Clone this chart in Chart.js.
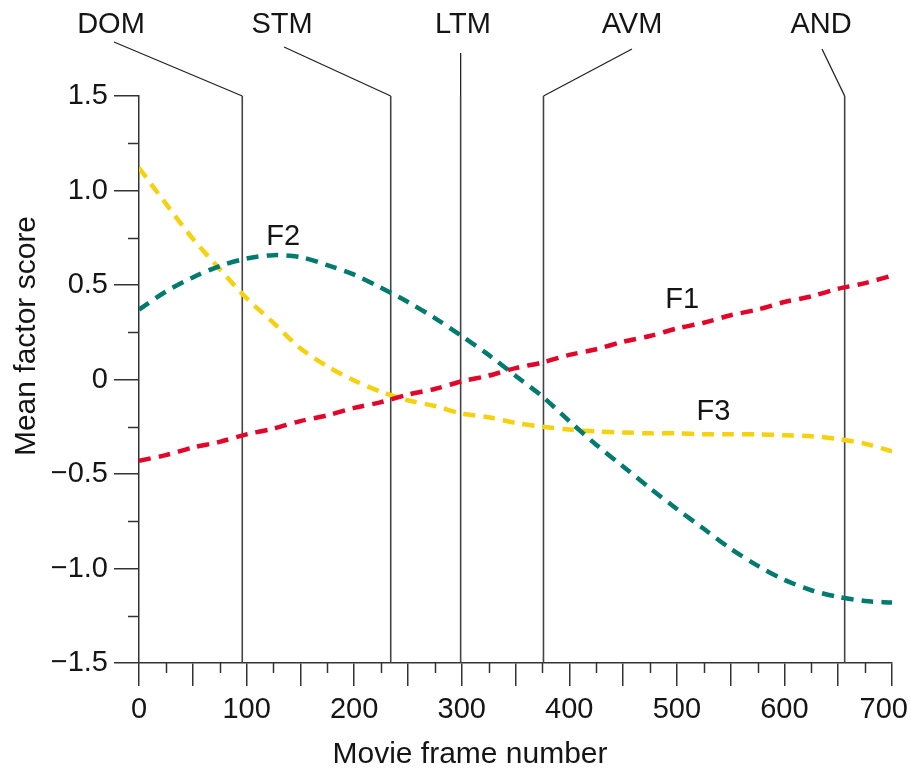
<!DOCTYPE html>
<html><head><meta charset="utf-8">
<script src="https://cdn.jsdelivr.net/npm/chart.js@4.4.1/dist/chart.umd.min.js"></script>
<style>html,body{margin:0;padding:0;background:#fff;}canvas{display:block;}</style>
</head><body>
<canvas id="c" width="911" height="768"></canvas>
<script>
// ---------- data ----------
const frames = [0,25,50,75,100,125,150,175,200,225,250,275,300,325,350,375,400,425,450,475,500,525,550,575,600,625,650,675,700];
const f1 = [-0.43,-0.40,-0.36,-0.33,-0.29,-0.26,-0.22,-0.19,-0.15,-0.12,-0.08,-0.05,-0.01,0.02,0.06,0.09,0.13,0.16,0.20,0.23,0.27,0.30,0.34,0.37,0.41,0.44,0.48,0.51,0.55];
const f2 = [0.37,0.465,0.54,0.60,0.64,0.658,0.648,0.605,0.555,0.485,0.41,0.325,0.23,0.13,0.02,-0.09,-0.22,-0.345,-0.46,-0.575,-0.685,-0.79,-0.895,-0.985,-1.06,-1.115,-1.15,-1.172,-1.18];
const f3 = [1.12,0.93,0.745,0.585,0.43,0.30,0.165,0.07,-0.005,-0.065,-0.11,-0.14,-0.18,-0.20,-0.23,-0.25,-0.265,-0.275,-0.28,-0.285,-0.285,-0.29,-0.29,-0.29,-0.295,-0.30,-0.315,-0.34,-0.38];
const seriesNames = ['F1','F2','F3'];
const xTickValues = [0,100,200,300,400,500,600,700];
const xTickLabels = ['0','100','200','300','400','500','600','700'];
const yTickValues = [-1.5,-1,-0.5,0,0.5,1,1.5];
const yTickLabels = ['\u22121.5','\u22121.0','\u22120.5','0','0.5','1.0','1.5'];
const markerNames = ['DOM','STM','LTM','AVM','AND'];
const markerFrames = [96,234,299,376,656];
const xTitle = 'Movie frame number';
const yTitle = 'Mean factor score';

// ---------- layout / style ----------
const FONT = '"Liberation Sans", Arial, Helvetica, sans-serif';
const TEXT = '#151515';
const AXIS = '#333333';
const seriesColors = ['#e3062b', '#007b6e', '#f6d10f'];
const markerLabelX = [111, 282, 463, 632, 821];
const markerLabelBaseline = 33;
const markerLineStart = [[114,42],[284,47],[null,53],[632,49],[822,49]];
const seriesLabelAt = [[505,0.378],[134,0.712],[534,-0.214]]; // [frame, value] of label centre/baseline
const xMajorStep = 50, xMinorStep = 25, yMinorStep = 0.25;
const xLabelBaseline = 718, xLabelMaxRight = 908;

const datasets = [f1, f2, f3].map((arr, i) => ({
  label: seriesNames[i],
  data: frames.map((x, k) => ({x: x, y: arr[k]})),
  borderColor: seriesColors[i],
  borderWidth: 4.5,
  borderDash: [12, 8],
  borderCapStyle: 'butt',
  pointRadius: 0,
  tension: 0.3,
  fill: false
}));

const decor = {
  id: 'decor',
  beforeDatasetsDraw(chart) {
    const ctx = chart.ctx, xs = chart.scales.x, ys = chart.scales.y;
    const top = ys.getPixelForValue(1.5), bottom = ys.getPixelForValue(-1.5);
    ctx.save();
    markerFrames.forEach((f, i) => {
      const px = xs.getPixelForValue(f);
      const st = markerLineStart[i];
      const sx = st[0] === null ? px : st[0];
      ctx.strokeStyle = '#222';
      ctx.lineWidth = 1.3;
      ctx.beginPath();
      ctx.moveTo(sx, st[1]);
      ctx.lineTo(px, top);
      ctx.stroke();
      ctx.strokeStyle = '#444';
      ctx.lineWidth = 1.6;
      ctx.beginPath();
      ctx.moveTo(px, top);
      ctx.lineTo(px, bottom);
      ctx.stroke();
    });
    ctx.restore();
  },
  afterDraw(chart) {
    const ctx = chart.ctx, xs = chart.scales.x, ys = chart.scales.y;
    const ca = chart.chartArea;
    ctx.save();
    // minor ticks
    ctx.strokeStyle = AXIS;
    ctx.lineWidth = 1.5;
    for (let v = xMinorStep; v < 700; v += xMajorStep) {
      const px = Math.round(xs.getPixelForValue(v)) + 0.5;
      ctx.beginPath(); ctx.moveTo(px, ca.bottom); ctx.lineTo(px, ca.bottom + 10); ctx.stroke();
    }
    for (let v = -1.5 + yMinorStep; v < 1.5; v += 0.5) {
      const py = Math.round(ys.getPixelForValue(v)) + 0.5;
      ctx.beginPath(); ctx.moveTo(ca.left - 11, py); ctx.lineTo(ca.left, py); ctx.stroke();
    }
    ctx.fillStyle = TEXT;
    ctx.textBaseline = 'alphabetic';
    // x tick labels (positioned by the x scale, kept inside the canvas)
    ctx.font = '29px ' + FONT;
    ctx.textAlign = 'center';
    xTickValues.forEach((v, i) => {
      const w = ctx.measureText(xTickLabels[i]).width;
      let px = xs.getPixelForValue(v);
      if (px + w / 2 > xLabelMaxRight) px = xLabelMaxRight - w / 2;
      ctx.fillText(xTickLabels[i], px, xLabelBaseline);
    });
    // titles
    ctx.font = '30px ' + FONT;
    ctx.fillText(xTitle, 470, 763);
    ctx.save();
    ctx.translate(35, 336);
    ctx.rotate(-Math.PI / 2);
    ctx.fillText(yTitle, 0, 0);
    ctx.restore();
    // marker labels
    ctx.font = '29px ' + FONT;
    markerNames.forEach((n, i) => ctx.fillText(n, markerLabelX[i], markerLabelBaseline));
    // series labels
    seriesNames.forEach((n, i) => {
      ctx.fillText(n, xs.getPixelForValue(seriesLabelAt[i][0]), ys.getPixelForValue(seriesLabelAt[i][1]));
    });
    ctx.restore();
  }
};

new Chart(document.getElementById('c'), {
  type: 'line',
  data: { datasets: datasets },
  options: {
    responsive: false,
    animation: false,
    events: [],
    layout: { padding: { top: 96, right: 19, left: 0, bottom: 0 } },
    plugins: { legend: { display: false }, tooltip: { enabled: false } },
    scales: {
      x: {
        type: 'linear', min: 0, max: 700,
        afterBuildTicks: s => { const t = []; for (let v = 0; v <= 700; v += xMajorStep) t.push({value: v}); s.ticks = t; },
        ticks: {
          autoSkip: false, maxRotation: 0, minRotation: 0, padding: 8,
          color: TEXT, font: { family: FONT, size: 29 },
          callback: () => ''
        },
        grid: { drawOnChartArea: false, color: AXIS, lineWidth: 1.5, tickLength: 23 },
        border: { color: AXIS, width: 1.5 },
        afterFit: s => { s.height = 105; s.paddingLeft = 0; s.paddingRight = 0; }
      },
      y: {
        type: 'linear', min: -1.5, max: 1.5,
        afterBuildTicks: s => { s.ticks = yTickValues.map(v => ({value: v})); },
        ticks: {
          autoSkip: false, padding: 6,
          color: TEXT, font: { family: FONT, size: 29 },
          callback: v => { const k = yTickValues.indexOf(v); return k >= 0 ? yTickLabels[k] : ''; }
        },
        grid: { drawOnChartArea: false, color: AXIS, lineWidth: 1.5, tickLength: 25 },
        border: { color: AXIS, width: 1.5 },
        afterFit: s => { s.width = 139; s.paddingTop = 0; s.paddingBottom = 0; }
      }
    }
  },
  plugins: [decor]
});
</script>
</body></html>
